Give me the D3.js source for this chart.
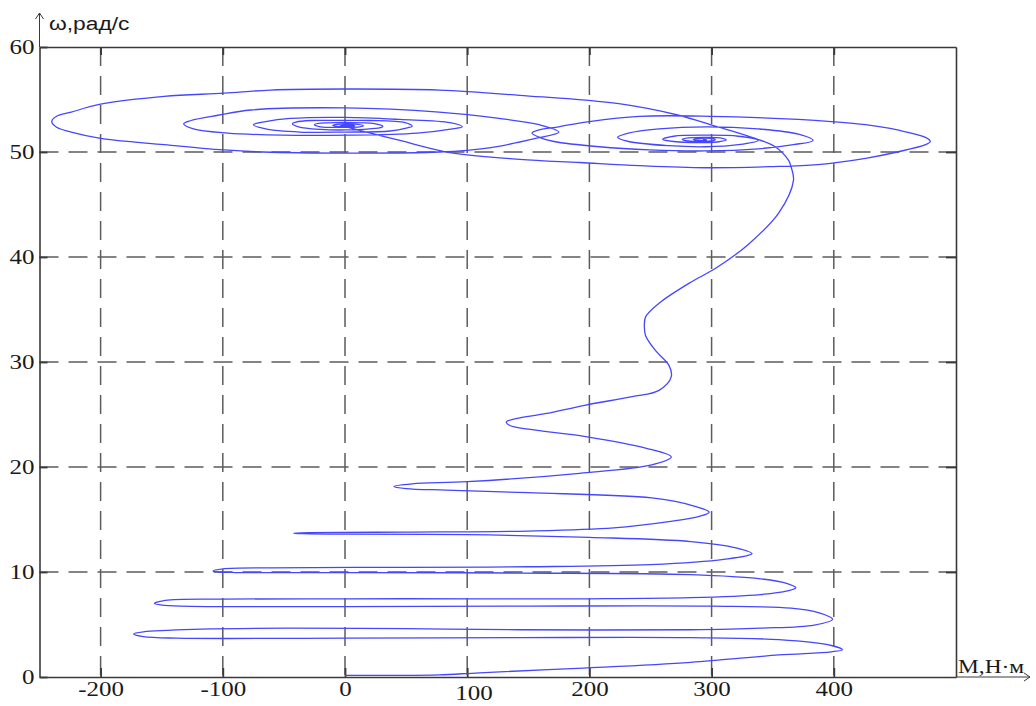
<!DOCTYPE html>
<html>
<head>
<meta charset="utf-8">
<style>
  body { margin: 0; background: #fff; }
  svg { display: block; }
  text { font-family: "Liberation Serif", "Times New Roman", serif; font-size: 20px; fill: #1a1a1a; }
  .frame .domain { stroke: #3a3a3a; stroke-width: 1.6px; }
  .frame .tick line { stroke: #3a3a3a; stroke-width: 1.8px; }
  .grid line { stroke: #5c5c5c; stroke-width: 1.5px; stroke-dasharray: 19,10; }
  .arrow { stroke: #3a3a3a; stroke-width: 1px; fill: none; }
  .traj { fill: none; stroke: #4646ff; stroke-width: 1.3px; }
</style>
<script src="https://d3js.org/d3.v7.min.js"></script>
</head>
<body>
<script>
  // axis values
  const xTicks = [-200, -100, 0, 100, 200, 300, 400]
  const yTicks = [0, 10, 20, 30, 40, 50, 60]
  const xGrid = [-200, -100, 0, 100, 200, 300, 400]
  const yGrid = [10, 20, 30, 40, 50]

  // trajectory, [M (N·m), omega (rad/s)]
  // start-up swings from rest
  const startSwings = [
    [0,0.15],[40,0.15],[77,0.2],[110,0.4],[195,0.85],[283,1.4],[355,2.1],[398,2.4],[407,2.6],
    [398,3.0],[355,3.55],[283,3.75],[143,3.75],[0,3.7],[-138,3.7],[-165,3.85],[-173,4.1],
    [-165,4.3],[-118,4.55],[-47,4.65],[50,4.6],[143,4.5],[283,4.5],[340,4.65],[384,4.95],[399,5.5],
    [388,6.1],[365,6.55],[300,6.75],[143,6.75],[0,6.7],[-135,6.75],[-150,6.85],[-156,7.0],
    [-147,7.3],[-100,7.42],[0,7.45],[110,7.45],[200,7.45],[283,7.55],[340,7.85],[362,8.2],[369,8.5],
    [362,8.9],[340,9.35],[283,9.75],[143,9.9],[0,9.95],[-90,9.95],[-103,10.0],[-108,10.1],
    [-100,10.3],[-60,10.4],[50,10.45],[150,10.5],[250,10.7],[310,11.2],[333,11.75],
    [320,12.3],[283,12.9],[200,13.3],[100,13.55],[0,13.6],[-35,13.65],[-42,13.7],
    [-30,13.75],[50,13.8],[150,13.9],[220,14.2],[265,14.8],[290,15.3],[298,15.7],
    [285,16.3],[251,17.05],[150,17.55],[83,17.8],[50,17.95],[40,18.15],
    [55,18.4],[100,18.6],[192,19.4],[251,20.2],[267,20.95],
    [246,21.8],[197,22.9],[150,23.6],[135,23.95],[132,24.3],
    [140,24.6],[165,25.1],[197,25.9],[235,26.7],[257,27.3],[267,28.6],
    [265,29.7],[254,31.1],[246,32.5],[245,33.3]
  ]
  // run-up to no-load speed
  const runUp = [
    [246,34.3],[257,35.6],[283,37.6],[303,38.9],[330,41.2],[355,44.2],[367,47.3],[365,48.6],
    [363,49.2],[352,50.5],[333,51.4],[302,52.5],[273,53.5],[224,54.6],[143,55.4],[77,55.9],[0,56.0]
  ]
  // no-load spiral
  const idleSpiral = [
    [-61,55.9],[-99,55.6],[-148,55.3],[-200,54.55],[-224,53.8],[-236,53.4],[-240,52.9],
    [-236,52.35],[-224,51.9],[-200,51.3],[-148,50.7],[-99,50.2],[-67,50.0],[0,49.9],[77,50.0],[118,50.4],[156,51.3],[175,51.9],
    [159,52.6],[126,53.2],[77,53.8],[0,54.2],[-77,54.0],[-104,53.5],[-126,53.0],[-132,52.7],
    [-124,52.2],[-96,51.8],[-51,51.6],[2,51.6],[59,51.8],[88,52.2],[96,52.4],
    [86,52.8],[45,53.1],[0,53.3],[-45,53.2],[-65,52.9],[-75,52.6],
    [-65,52.2],[-37,51.9],[0,51.9],[37,52.0],[51,52.3],[55,52.45],
    [49,52.8],[20,53.0],[0,53.0],[-28,53.0],[-40,52.85],[-43,52.7],
    [-38,52.4],[-20,52.15],[0,52.1],[20,52.2],[30,52.35],[31,52.45],
    [24,52.7],[0,52.8],[-20,52.75],[-25,52.6],
    [-20,52.4],[0,52.35],[12,52.4],[15,52.5],
    [8,52.65],[-4,52.65],[-10,52.55],[-4,52.42],[6,52.45],[8,52.5],[0,52.55],[-4,52.5],[0,52.47]
  ]
  // loaded spiral
  const loadSpiral = [
    [1.6,52.4],[45,51.1],[86,49.95],[143,49.3],[192,49.0],[241,48.7],[295,48.5],[347,48.6],
    [387,48.8],[426,49.4],[452,50.0],[475,50.7],[479,51.0],
    [475,51.4],[452,52.1],[426,52.6],[398,52.9],[371,53.1],[299,53.4],[241,53.4],[200,52.9],[175,52.4],[159,52.1],[153,51.8],
    [159,51.4],[171,51.0],[208,50.5],[249,50.2],[295,50.1],[338,50.3],[367,50.7],[383,51.1],
    [371,51.7],[338,52.2],[295,52.4],[257,52.2],[232,51.8],[223,51.4],
    [232,51.0],[265,50.6],[295,50.5],[322,50.7],[338,51.1],
    [322,51.5],[295,51.6],[269,51.5],[260,51.2],
    [269,51.0],[295,50.9],[307,51.0],[312,51.15],
    [307,51.35],[295,51.4],[281,51.35],[276,51.2],
    [281,51.05],[295,51.0],[302,51.1],[303,51.2],
    [299,51.3],[291,51.3],[285,51.2],[289,51.1],[296,51.15],[293,51.22]
  ]

  const W = 1036, H = 706
  const svg = d3.select('body').append('svg').attr('width', W).attr('height', H)

  const x = d3.scaleLinear().domain([-250, 500]).range([39.5, 956])
  const y = d3.scaleLinear().domain([0, 60]).range([677, 47])

  // dashed grid
  const grid = svg.append('g').classed('grid', true)
  grid.selectAll('line.v').data(xGrid).enter().append('line').classed('v', true)
    .attr('x1', d => x(d)).attr('x2', d => x(d))
    .attr('y1', y(60)).attr('y2', y(0))
  grid.selectAll('line.h').data(yGrid).enter().append('line').classed('h', true)
    .attr('x1', x(-250)).attr('x2', x(500))
    .attr('y1', d => y(d)).attr('y2', d => y(d))

  // frame made of four axes
  const stretch = 'scale(1.25,1)'
  const fmt = d => String(d)

  const bottom = svg.append('g').classed('frame', true)
    .attr('transform', `translate(0,${y(0)})`)
    .call(d3.axisBottom(x).tickValues(xTicks).tickFormat(fmt).tickSizeInner(-9).tickSizeOuter(0).tickPadding(5))
  bottom.selectAll('text').attr('transform', stretch)
  // the 100 label sits a little off in the original
  bottom.selectAll('.tick').filter(d => d == 100).select('text').attr('x', 5).attr('y', 9)

  const left = svg.append('g').classed('frame', true)
    .attr('transform', `translate(${x(-250)},0)`)
    .call(d3.axisLeft(y).tickValues(yTicks).tickFormat(fmt).tickSizeInner(-8).tickSizeOuter(0).tickPadding(4))
  left.selectAll('text').attr('transform', stretch)

  svg.append('g').classed('frame', true)
    .attr('transform', `translate(0,${y(60)})`)
    .call(d3.axisTop(x).tickValues(xGrid).tickFormat('').tickSizeInner(-8).tickSizeOuter(0))
  svg.append('g').classed('frame', true)
    .attr('transform', `translate(${x(500)},0)`)
    .call(d3.axisRight(y).tickValues(yGrid).tickFormat('').tickSizeInner(-10).tickSizeOuter(0))

  svg.selectAll('.frame text').style('font-size', '20px').style('fill', '#1a1a1a')

  // axis arrows
  const x0 = x(-250), y0 = y(0)
  svg.append('path').classed('arrow', true)
    .attr('d', `M${x0},${y(60)}V13M${x0 - 4},19L${x0},13L${x0 + 4},19`)
  svg.append('path').classed('arrow', true)
    .attr('d', `M${x(500)},${y0}H1030M1024,${y0 - 4}L1030,${y0}L1024,${y0 + 4}`)

  // axis titles
  svg.append('text').attr('transform', 'translate(49,30) scale(1.2,1)')
    .style('font-family', '"Liberation Sans", Arial, sans-serif').style('font-size', '19px')
    .text('ω,рад/с')
  svg.append('text').attr('transform', `translate(958,${y0 - 4}) scale(1.3,1)`)
    .style('font-size', '18px')
    .text('М,Н·м')

  // trajectory
  const pts = startSwings.concat(runUp, idleSpiral, loadSpiral)
  const line = d3.line()
    .x(d => x(d[0]))
    .y(d => y(d[1]))
    .curve(d3.curveCatmullRom.alpha(0.5))
  svg.append('path').classed('traj', true).attr('d', line(pts))
</script>
</body>
</html>
